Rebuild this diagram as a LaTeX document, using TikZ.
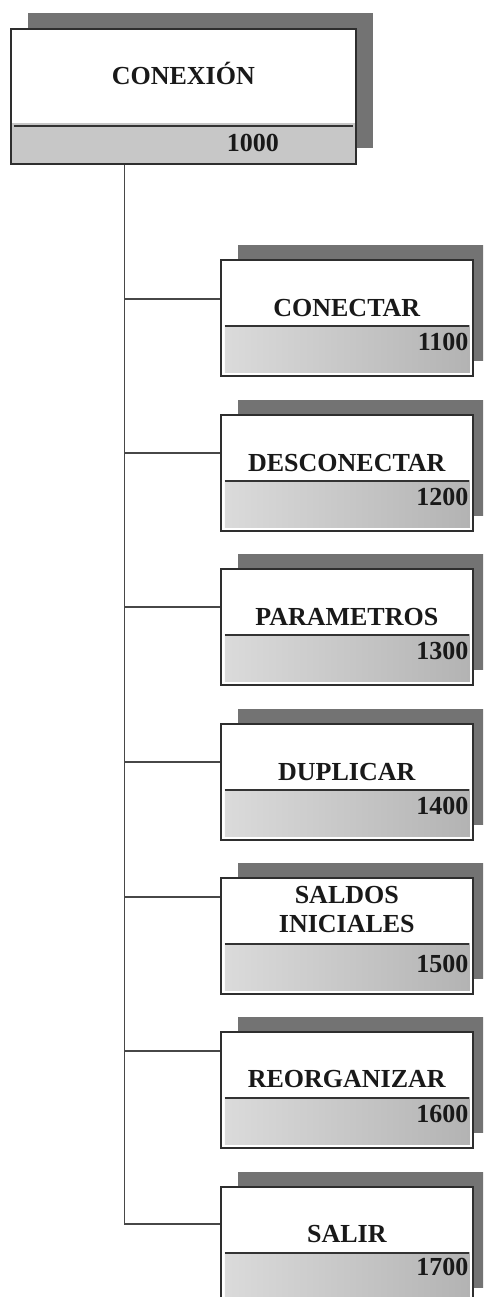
\documentclass[tikz,border=0pt]{standalone}
\usepackage{fontspec}
\setmainfont{Liberation Serif}
\usetikzlibrary{shadows,calc}
\begin{document}
\begin{tikzpicture}[x=1pt,y=-1pt,
  conn/.style={draw=black!72, line width=1.3pt},
  card/.style={draw=black!82, line width=1.6pt, fill=white, rectangle, inner sep=0pt, anchor=north west,
    minimum width=252pt, minimum height=116pt,
    drop shadow={shadow xshift=17pt, shadow yshift=15pt, fill=black!55, opacity=1, draw=none},
    path picture={
      \fill[left color=black!14, right color=black!30] ([xshift=4pt,yshift=-66pt]path picture bounding box.north west) rectangle ([xshift=-3pt,yshift=3pt]path picture bounding box.south east);
      \draw[line width=1.6pt, black!80] ([xshift=4pt,yshift=-66pt]path picture bounding box.north west) -- ([xshift=-4pt,yshift=-66pt]path picture bounding box.north east);
    }},
  rootcard/.style={draw=black!82, line width=1.6pt, fill=white, rectangle, inner sep=0pt, anchor=north west,
    minimum width=345pt, minimum height=135pt,
    drop shadow={shadow xshift=17pt, shadow yshift=16pt, fill=black!55, opacity=1, draw=none},
    path picture={
      \fill[black!22] ([yshift=-94pt]path picture bounding box.north west) rectangle (path picture bounding box.south east);
      \draw[line width=1.6pt, black!80] ([xshift=3pt,yshift=-97pt]path picture bounding box.north west) -- ([xshift=-3pt,yshift=-97pt]path picture bounding box.north east);
    }},
  title/.style={font=\fontsize{26}{29}\selectfont\bfseries, text=black!90, inner sep=0pt, align=center},
  num/.style={font=\fontsize{26}{29}\selectfont\bfseries, text=black!90, inner sep=0pt, anchor=base east},
]
\useasboundingbox (0,0) rectangle (483,1297);
\clip (0,0) rectangle (483,1297);

% root
\node[rootcard] (root) at (10,28) {};
\node[title, anchor=base] (rootT) at ([yshift=-57pt]root.north) {CONEXIÓN};
\node[num, anchor=base] (rootN) at ([xshift=69.5pt,yshift=-124pt]root.north) {1000};

% children
\node[card] (b1) at (220,259) {};
\node[card] (b2) at (220,414) {};
\node[card] (b3) at (220,568) {};
\node[card] (b4) at (220,723) {};
\node[card] (b5) at (220,877) {};
\node[card] (b6) at (220,1031) {};
\node[card] (b7) at (220,1186) {};

\node[title, anchor=base] (t1) at ([yshift=-57pt]b1.north) {CONECTAR};
\node[title, anchor=base] (t2) at ([yshift=-57pt]b2.north) {DESCONECTAR};
\node[title, anchor=base] (t3) at ([yshift=-57pt]b3.north) {PARAMETROS};
\node[title, anchor=base] (t4) at ([yshift=-57pt]b4.north) {DUPLICAR};
\node[title, anchor=center] (t5) at ([yshift=-32.5pt]b5.north) {SALDOS\\INICIALES};
\node[title, anchor=base] (t6) at ([yshift=-56pt]b6.north) {REORGANIZAR};
\node[title, anchor=base] (t7) at ([yshift=-56pt]b7.north) {SALIR};

\node[num] (n1) at ([xshift=-5pt,yshift=-91pt]b1.north east) {1100};
\node[num] (n2) at ([xshift=-5pt,yshift=-91pt]b2.north east) {1200};
\node[num] (n3) at ([xshift=-5pt,yshift=-91pt]b3.north east) {1300};
\node[num] (n4) at ([xshift=-5pt,yshift=-91pt]b4.north east) {1400};
\node[num] (n5) at ([xshift=-5pt,yshift=-95pt]b5.north east) {1500};
\node[num] (n6) at ([xshift=-5pt,yshift=-91pt]b6.north east) {1600};
\node[num] (n7) at ([xshift=-5pt,yshift=-89pt]b7.north east) {1700};

% connector ends
\coordinate (trk) at ([xshift=-58.5pt]root.south);
\coordinate (c1) at ([yshift=-40pt]b1.north west);
\coordinate (c2) at ([yshift=-39pt]b2.north west);
\coordinate (c3) at ([yshift=-39pt]b3.north west);
\coordinate (c4) at ([yshift=-39pt]b4.north west);
\coordinate (c5) at ([yshift=-20pt]b5.north west);
\coordinate (c6) at ([yshift=-20pt]b6.north west);
\coordinate (c7) at ([yshift=-38pt]b7.north west);

\draw[conn] (trk) -- (trk |- c7) -- (c7);
\foreach \c in {c1,c2,c3,c4,c5,c6} {
  \draw[conn] (trk |- \c) -- (\c);
}
\end{tikzpicture}
\end{document}
